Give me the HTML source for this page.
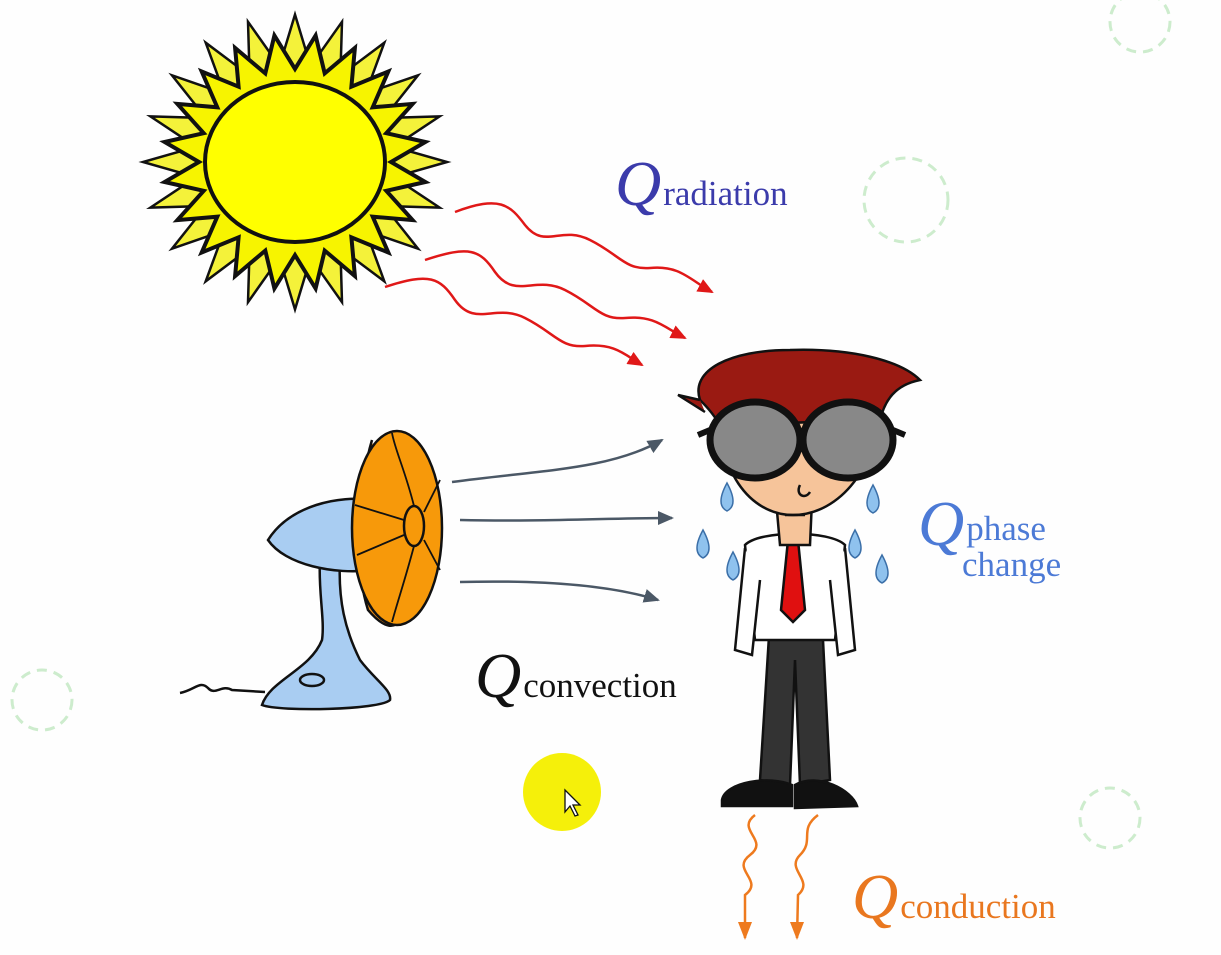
<!DOCTYPE html>
<html><head><meta charset="utf-8"><style>
html,body{margin:0;padding:0;background:#fefefe;}
svg{display:block}
text{font-family:"Liberation Serif",serif;}
</style></head><body>
<svg width="1221" height="955" viewBox="0 0 1221 955">
<defs>
<marker id="ar" markerWidth="16" markerHeight="14" refX="14" refY="7" orient="auto" markerUnits="userSpaceOnUse"><path d="M0,0 L16,7 L0,14 z" fill="#e01818"/></marker>
<marker id="ag" markerWidth="16" markerHeight="14" refX="14" refY="7" orient="auto" markerUnits="userSpaceOnUse"><path d="M0,0 L16,7 L0,14 z" fill="#4b5866"/></marker>
<marker id="ao" markerWidth="14" markerHeight="18" refX="7" refY="16" orient="0" markerUnits="userSpaceOnUse"><path d="M0,0 L7,18 L14,0 z" fill="#ee7a1e"/></marker>
</defs>
<g fill="none" stroke="#cdeccd" stroke-width="3" stroke-dasharray="10 7">
<circle cx="906" cy="200" r="42"/><circle cx="1140" cy="22" r="30"/><circle cx="42" cy="700" r="30"/><circle cx="1110" cy="818" r="30"/>
</g>
<g id="sun"></g>
<g fill="none" stroke="#e01818" stroke-width="2.5">
<path d="M455,212 C500,195 510,205 525,225 C545,250 560,225 590,240 C620,255 625,270 650,268 C680,265 690,280 712,292" marker-end="url(#ar)"/>
<path d="M425,260 C470,245 480,250 495,272 C515,300 535,275 565,290 C595,305 600,320 625,318 C655,315 665,328 685,338" marker-end="url(#ar)"/>
<path d="M385,287 C430,272 440,278 455,300 C475,328 495,303 525,318 C555,333 560,348 585,346 C615,343 625,355 642,365" marker-end="url(#ar)"/>
</g>
<text x="615" y="205" fill="#3b3bab"><tspan font-style="italic" font-size="64">Q</tspan><tspan font-size="35" dx="2">radiation</tspan></text>
<g stroke="#111" stroke-width="2.5">
<path d="M180,693 C195,690 200,680 208,688 C215,696 222,684 232,690 L265,692" fill="none"/>
<path d="M262,705 C270,680 310,670 322,640 C325,620 318,590 320,560 L340,560 C338,600 345,630 360,660 C375,680 392,690 390,700 C380,710 280,712 262,705 z" fill="#a9cdf2"/>
<ellipse cx="312" cy="680" rx="12" ry="6" fill="none"/>
<path d="M268,540 C290,505 340,495 372,500 L372,570 C335,575 285,565 268,540 z" fill="#a9cdf2"/>
<path d="M372,440 C360,480 352,560 368,610 C385,630 395,628 400,620" fill="#ee8a10"/>
<ellipse cx="397" cy="528" rx="45" ry="97" fill="#f7990a"/>
<ellipse cx="414" cy="526" rx="10" ry="20" fill="#f7990a"/>
<path d="M414,506 C405,470 395,450 392,433 M414,546 C405,580 398,600 392,622 M404,520 L355,505 M404,535 L357,555 M424,512 L440,480 M424,540 L440,570" fill="none" stroke-width="1.8"/>
</g>
<g fill="none" stroke="#4b5866" stroke-width="2.5">
<path d="M452,482 C540,470 610,470 662,440" marker-end="url(#ag)"/>
<path d="M460,520 C540,522 610,518 672,518" marker-end="url(#ag)"/>
<path d="M460,582 C540,580 610,585 658,600" marker-end="url(#ag)"/>
</g>
<text x="475" y="697" fill="#111"><tspan font-style="italic" font-size="64">Q</tspan><tspan font-size="35" dx="2">convection</tspan></text>
<g stroke="#111" stroke-width="2.5">
<path d="M770,620 L760,780 L790,785 L795,660 L800,785 L830,780 L822,620 z" fill="#333"/>
<path d="M722,800 C725,782 770,775 792,785 L792,806 L722,806 z" fill="#111"/>
<path d="M795,785 C818,772 852,790 857,806 L795,808 z" fill="#111"/>
<path d="M745,545 C760,530 830,530 845,545 L835,640 L755,640 z" fill="#fff"/>
<path d="M745,548 L735,650 L752,655 L760,580 M845,548 L855,650 L838,655 L830,580" fill="#fff"/>
<path d="M788,540 L798,540 L805,610 L793,622 L781,610 z" fill="#e01010"/>
<path d="M776,500 L780,545 L810,545 L812,500 z" fill="#f6c49a"/>
<path d="M720,400 C715,470 750,515 793,515 C840,515 880,465 880,400 C870,385 730,385 720,400 z" fill="#f6c49a"/>
<path d="M700,400 C690,370 730,350 790,350 C850,348 900,360 920,380 C895,385 885,400 880,420 L720,425 C712,412 705,405 700,400 z" fill="#9a1a12"/>
<path d="M700,400 L678,395 L705,412 M720,420 L718,450" fill="#9a1a12"/>
<ellipse cx="755" cy="440" rx="45" ry="38" fill="#888" stroke-width="7"/>
<ellipse cx="848" cy="440" rx="45" ry="38" fill="#888" stroke-width="7"/>
<path d="M710,430 L698,435 M893,430 L905,435" stroke-width="6" fill="none"/>
<path d="M800,485 C795,495 805,500 810,492" fill="none"/>
<path d="M785,515 L805,515" fill="none"/>
</g>
<g fill="#8fc2ee" stroke="#3b6fa8" stroke-width="1.5">
<path d="M727,483 q-12,22 0,28 q12,-6 0,-28z"/><path d="M703,530 q-12,22 0,28 q12,-6 0,-28z"/><path d="M733,552 q-12,22 0,28 q12,-6 0,-28z"/>
<path d="M873,485 q-12,22 0,28 q12,-6 0,-28z"/><path d="M855,530 q-12,22 0,28 q12,-6 0,-28z"/><path d="M882,555 q-12,22 0,28 q12,-6 0,-28z"/>
</g>
<text x="918" y="545" fill="#4c7ad6"><tspan font-style="italic" font-size="64">Q</tspan><tspan font-size="35" dx="2" dy="-5">phase</tspan><tspan font-size="35" x="962" dy="36">change</tspan></text>
<g fill="none" stroke="#ee7a1e" stroke-width="2.5">
<path d="M755,815 C735,830 770,840 750,855 C730,870 765,880 745,895 L745,938" marker-end="url(#ao)"/>
<path d="M818,815 C798,830 815,840 800,855 C785,870 815,880 798,895 L797,938" marker-end="url(#ao)"/>
</g>
<text x="852" y="918" fill="#e9771f"><tspan font-style="italic" font-size="64">Q</tspan><tspan font-size="35" dx="2">conduction</tspan></text>
<circle cx="562" cy="792" r="39" fill="#f5f00a"/>
<path d="M565,790 L565,812 L570,806 L575,816 L578,815 L573,805 L580,805 z" fill="#fff" stroke="#111" stroke-width="1.3"/>
</svg>
<script>
const g=document.getElementById('sun');
const cx=295,cy=162,n=20;
let pts=[];
for(let i=0;i<n*2;i++){const a=i*Math.PI/n;const r=i%2?100:152;pts.push((cx+r*Math.cos(a)).toFixed(1)+','+(cy+r*0.97*Math.sin(a)).toFixed(1));}
const p=document.createElementNS('http://www.w3.org/2000/svg','polygon');
p.setAttribute('points',pts.join(' '));
p.setAttribute('fill','#f4f23a');p.setAttribute('stroke','#111');p.setAttribute('stroke-width','2.5');


g.appendChild(p);
let pts2=[];
for(let i=0;i<n*2;i++){const a=i*Math.PI/n+Math.PI/n;const r=i%2?96:132;pts2.push((cx+r*Math.cos(a)).toFixed(1)+','+(cy+r*0.97*Math.sin(a)).toFixed(1));}
const p2=document.createElementNS('http://www.w3.org/2000/svg','polygon');
p2.setAttribute('points',pts2.join(' '));
p2.setAttribute('fill','#f7f400');p2.setAttribute('stroke','#111');p2.setAttribute('stroke-width','4');


g.appendChild(p2);
const c=document.createElementNS('http://www.w3.org/2000/svg','ellipse');
c.setAttribute('cx',cx);c.setAttribute('cy',cy);c.setAttribute('rx',90);c.setAttribute('ry',80);
c.setAttribute('fill','#ffff00');c.setAttribute('stroke','#111');c.setAttribute('stroke-width','4');


g.appendChild(c);
</script>
</body></html>
